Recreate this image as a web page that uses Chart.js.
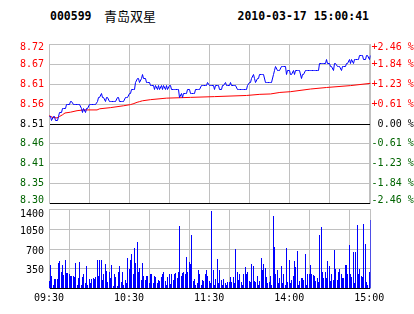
<!DOCTYPE html>
<html><head><meta charset="utf-8">
<script src="https://cdn.jsdelivr.net/npm/chart.js@4.4.0/dist/chart.umd.min.js"></script>
<style>
html,body{margin:0;padding:0;background:#fff;}
#wrap{position:relative;width:414px;height:314px;overflow:hidden;background:#fff;}
canvas{position:absolute;left:0;top:0;}
.hd{position:absolute;top:9.3px;height:14px;line-height:14px;white-space:nowrap;color:#000;}
</style></head><body>
<div id="wrap">
<div class="hd" id="code" style="left:50px;font-family:'DejaVu Sans Mono',monospace;font-weight:bold;font-size:11.5px;"></div>
<div class="hd" id="name" style="left:104px;font-family:'Noto Sans CJK SC',sans-serif;font-size:13px;"></div>
<div class="hd" id="stamp" style="left:237.5px;font-family:'DejaVu Sans Mono',monospace;font-weight:bold;font-size:11.5px;"></div>
<canvas id="price" width="414" height="314" style="width:414px;height:314px"></canvas>
<canvas id="vol" width="414" height="314" style="width:414px;height:314px"></canvas>
</div>
<script>
const stockCode = '000599';
const stockName = '青岛双星';
const stamp = '2010-03-17 15:00:41';
const prevClose = 8.51;
const pctLimit = 2.46;
const priceTickLabels = ['8.72','8.67','8.61','8.56','8.51','8.46','8.41','8.35','8.30'];
const pctTickLabels = ['+2.46 %','+1.84 %','+1.23 %','+0.61 %',' 0.00 %','-0.61 %','-1.23 %','-1.84 %','-2.46 %'];
const volTickValues = [0, 350, 700, 1050, 1400];
const volTickLabels = ['', '350', '700', '1050', '1400'];
const timeTickSlots = [0, 60, 120, 180, 240];
const timeTickLabels = ['09:30', '10:30', '11:30', '14:00', '15:00'];
const gridSlots = [0, 30, 60, 90, 120, 150, 180, 210, 240];

const price = [
8.53,8.53,8.52,8.53,8.53,8.52,8.52,8.53,8.54,8.54,
8.55,8.55,8.55,8.56,8.56,8.56,8.57,8.57,8.56,8.56,
8.56,8.56,8.56,8.56,8.55,8.54,8.55,8.54,8.55,8.55,
8.56,8.56,8.56,8.56,8.56,8.56,8.57,8.58,8.58,8.59,
8.58,8.58,8.57,8.58,8.58,8.57,8.57,8.57,8.57,8.57,
8.57,8.58,8.58,8.57,8.57,8.57,8.57,8.58,8.58,8.58,
8.59,8.59,8.60,8.60,8.60,8.62,8.63,8.63,8.62,8.63,
8.64,8.63,8.63,8.62,8.62,8.62,8.61,8.61,8.61,8.60,
8.61,8.60,8.61,8.60,8.61,8.60,8.61,8.60,8.61,8.60,
8.61,8.61,8.60,8.60,8.60,8.60,8.60,8.60,8.58,8.59,
8.58,8.59,8.59,8.59,8.60,8.60,8.59,8.59,8.59,8.59,
8.60,8.60,8.60,8.60,8.61,8.61,8.61,8.61,8.61,8.62,
8.61,8.61,8.61,8.61,8.60,8.61,8.61,8.61,8.60,8.60,
8.61,8.61,8.62,8.61,8.61,8.61,8.62,8.61,8.61,8.61,
8.61,8.60,8.60,8.60,8.60,8.60,8.60,8.60,8.60,8.61,
8.62,8.62,8.63,8.64,8.63,8.62,8.63,8.63,8.64,8.64,
8.64,8.64,8.62,8.62,8.62,8.62,8.62,8.62,8.64,8.65,
8.66,8.65,8.65,8.65,8.66,8.66,8.66,8.66,8.64,8.65,
8.65,8.64,8.64,8.65,8.64,8.65,8.65,8.65,8.65,8.63,
8.64,8.64,8.65,8.65,8.65,8.65,8.65,8.65,8.65,8.65,
8.65,8.65,8.65,8.67,8.67,8.67,8.67,8.67,8.68,8.67,
8.67,8.66,8.66,8.65,8.67,8.67,8.66,8.66,8.66,8.65,
8.66,8.66,8.66,8.67,8.67,8.68,8.67,8.68,8.67,8.68,
8.68,8.68,8.68,8.69,8.69,8.69,8.68,8.68,8.69,8.69,
8.68,8.69
];

const avgSlots = [0,3,6,8,10,12,16,21,26,36,38,46,56,61,63,66,68,70,76,88,106,124,148,158,166,173,181,196,208,226,241];
const avgPrice = [8.532,8.527,8.526,8.530,8.534,8.539,8.541,8.545,8.547,8.547,8.550,8.553,8.558,8.561,8.563,8.567,8.569,8.571,8.574,8.578,8.580,8.582,8.585,8.588,8.589,8.593,8.595,8.602,8.606,8.611,8.617];

const volume = [
135,425,230,60,170,175,160,460,480,300,
410,240,500,280,270,265,230,230,215,200,
460,60,190,470,60,200,265,100,400,60,
160,100,160,180,160,200,500,220,510,510,
150,265,430,310,120,290,190,425,50,265,
200,50,290,396,120,290,60,150,100,545,
350,510,620,250,710,450,830,300,360,150,
450,220,150,230,230,100,260,250,90,230,
210,100,150,130,200,260,300,130,60,200,
250,80,250,150,260,280,180,290,1110,230,
270,290,260,550,290,470,440,950,130,170,
60,100,320,250,60,150,130,260,330,230,
130,90,1370,320,60,160,530,90,320,150,
60,160,90,60,110,110,200,110,200,90,
700,300,150,260,110,60,260,380,260,300,
130,120,440,400,130,120,230,60,130,545,
320,440,360,200,100,120,230,60,1290,730,
260,320,100,180,390,90,260,60,720,120,
500,100,150,230,480,380,660,60,130,180,
190,150,620,60,260,250,410,250,240,220,
130,190,110,950,1090,300,180,300,180,480,
400,130,260,150,680,340,150,300,350,260,
180,180,410,410,260,770,260,200,650,90,
650,1130,250,350,230,200,1150,780,120,60,
300,1220
];

document.getElementById('code').textContent = stockCode;
document.getElementById('name').textContent = stockName;
document.getElementById('stamp').textContent = stamp;

const GRID = '#c0c0c0';
const RED = '#ff0000';
const GREEN = '#006400';
const BLUE = '#0000ff';
const MONO = "'DejaVu Sans Mono', monospace";
const lastSlot = price.length - 1;
const lo = prevClose * (1 - pctLimit / 100);
const hi = prevClose * (1 + pctLimit / 100);
const nP = priceTickLabels.length;

// snap library-computed element positions onto device pixels for crisp 1px marks
const snapPlugin = {
  id: 'snap',
  afterDatasetsUpdate(chart) {
    chart.data.datasets.forEach((ds, di) => {
      if (!ds.snap) return;
      chart.getDatasetMeta(di).data.forEach(el => {
        el.x = Math.floor(el.x) + 0.5;
        if (ds.snap === 'bar') {
          el.width = 1;
          el.y = Math.round(el.y);
          el.base = Math.round(el.base);
        } else {
          el.y = Math.round(el.y - 0.5) + 0.5;
        }
      });
    });
  }
};

function evenTicks(scale, n) {
  const t = [];
  for (let i = 0; i < n; i++) t.push({ value: scale.min + (scale.max - scale.min) * i / (n - 1) });
  scale.ticks = t;
}
function edgeLabel(s, i, n) {
  if (i === n - 1) return ['', s];
  if (i === 0) return [s, ''];
  return s;
}
function edgeFont(i, n, shrink) {
  return { family: MONO, size: 10, lineHeight: (i === 0 || i === n - 1) ? shrink : 1.2 };
}
function slotAxis(extra) {
  return Object.assign({
    type: 'linear', min: 0, max: lastSlot, offset: false,
    afterBuildTicks: s => { s.ticks = gridSlots.map(v => ({ value: v })); },
    grid: { color: GRID, drawTicks: false, lineWidth: 1 },
    border: { display: false }
  }, extra);
}
const labelColor = i => i > 4 ? RED : (i === 4 ? '#000' : GREEN);

new Chart(document.getElementById('price'), {
  type: 'line',
  data: {
    datasets: [
      { data: price.map((v, i) => ({ x: i, y: v })), borderColor: BLUE, borderWidth: 1, pointRadius: 0, tension: 0, order: 0, snap: 'line' },
      { data: avgSlots.map((s, i) => ({ x: s, y: avgPrice[i] })), borderColor: RED, borderWidth: 1, pointRadius: 0, tension: 0, order: 1 }
    ]
  },
  plugins: [snapPlugin],
  options: {
    responsive: false, animation: false, events: [],
    layout: { padding: { top: 44.4, bottom: 110.4, left: 0, right: 0 } },
    plugins: { legend: { display: false }, tooltip: { enabled: false } },
    scales: {
      x: slotAxis({ ticks: { display: false }, afterFit: s => { s.height = 0; } }),
      y: {
        type: 'linear', position: 'left', min: lo, max: hi,
        afterBuildTicks: s => evenTicks(s, nP),
        afterFit: s => { s.width = 49; },
        ticks: {
          callback: (v, i) => edgeLabel(priceTickLabels[nP - 1 - i], i, nP),
          font: ctx => edgeFont(ctx.index, nP, 0.64),
          color: ctx => labelColor(ctx.index),
          padding: 5
        },
        grid: { color: ctx => (ctx.index === 0 || ctx.index === 4) ? '#000' : GRID, drawTicks: false },
        border: { color: GRID }
      },
      y2: {
        type: 'linear', position: 'right', min: lo, max: hi,
        afterBuildTicks: s => evenTicks(s, nP),
        afterFit: s => { s.width = 43.4; },
        ticks: {
          callback: (v, i) => edgeLabel(pctTickLabels[nP - 1 - i], i, nP),
          font: ctx => edgeFont(ctx.index, nP, 0.64),
          color: ctx => labelColor(ctx.index),
          padding: 1
        },
        grid: { display: false, drawTicks: false },
        border: { color: GRID }
      }
    }
  }
});

const nV = volTickValues.length;
new Chart(document.getElementById('vol'), {
  type: 'bar',
  data: {
    datasets: [{ data: volume.map((v, i) => ({ x: i, y: v })), backgroundColor: BLUE, borderWidth: 0, barThickness: 1, inflateAmount: 0, snap: 'bar' }]
  },
  plugins: [snapPlugin],
  options: {
    responsive: false, animation: false, events: [],
    layout: { padding: { top: 209.5, bottom: 0, left: 0, right: 0 } },
    plugins: { legend: { display: false }, tooltip: { enabled: false } },
    scales: {
      x: slotAxis({
        ticks: {
          autoSkip: false, maxRotation: 0, padding: 3.5, color: '#000',
          font: { family: MONO, size: 10 },
          callback: v => { const k = timeTickSlots.indexOf(v); return k >= 0 ? timeTickLabels[k] : ''; }
        },
        afterFit: s => { s.height = 25.5; }
      }),
      y: {
        type: 'linear', position: 'left', min: 0, max: volTickValues[nV - 1],
        afterBuildTicks: s => { s.ticks = volTickValues.map(v => ({ value: v })); },
        afterFit: s => { s.width = 49; },
        ticks: {
          callback: (v, i) => i === nV - 1 ? ['', volTickLabels[i]] : volTickLabels[i],
          font: ctx => ({ family: MONO, size: 10, lineHeight: ctx.index === nV - 1 ? 0.5 : 1.2 }),
          color: '#000', padding: 5, labelOffset: 2
        },
        grid: { color: ctx => ctx.index === 0 ? '#000' : GRID, drawTicks: false },
        border: { color: GRID }
      },
      y2: {
        type: 'linear', position: 'right', min: 0, max: volTickValues[nV - 1],
        afterFit: s => { s.width = 43.4; },
        ticks: { display: false },
        grid: { display: false, drawTicks: false },
        border: { color: GRID }
      }
    }
  }
});
</script>
</body></html>
